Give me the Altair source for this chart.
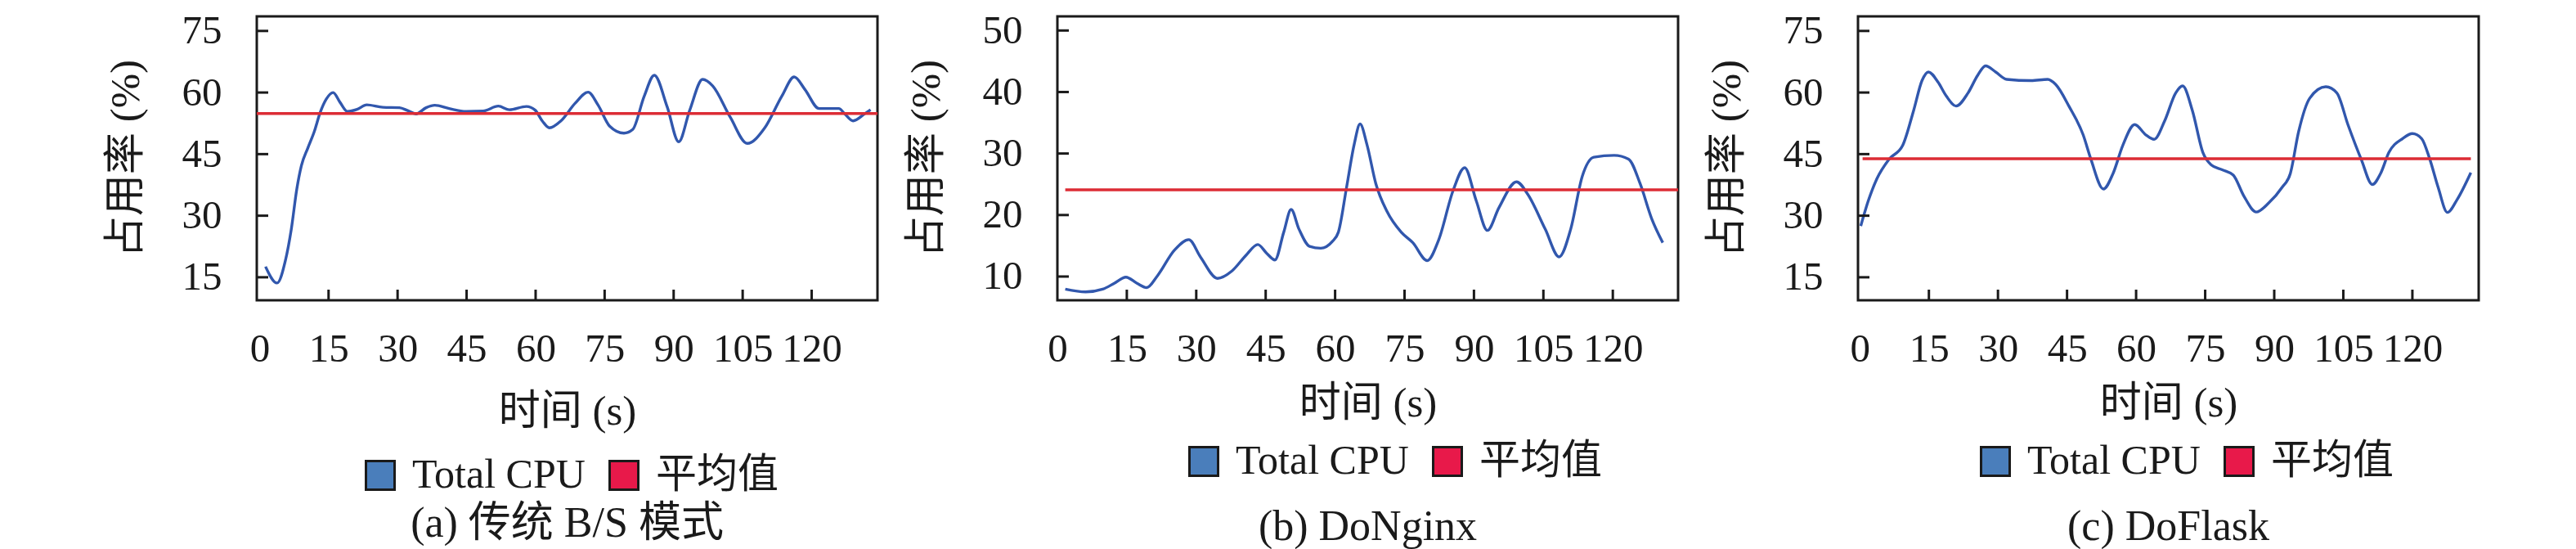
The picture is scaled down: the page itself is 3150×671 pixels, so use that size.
import altair as alt
import pandas as pd

SERIES = ["Total CPU", "平均值"]

# ---- panel (a) 传统 B/S 模式 ----
a_time = [1.3, 3.8, 5.6, 6.9, 8.1, 9.1, 10.5, 11.9, 13.2, 14.5, 16.0, 17.5, 19.1, 21.2, 23.3, 26.8,
          30.4, 32.2, 34.0, 36.2, 38.1, 41.2, 44.9, 48.6, 51.9, 54.3, 58.0, 59.9, 61.5, 63.0, 65.5,
          68.6, 71.4, 73.6, 76.1, 79.2, 81.1, 83.6, 85.8, 88.6, 91.1, 93.5, 96.3, 98.5, 102.3, 106.0,
          109.8, 113.5, 116.2, 118.5, 121.6, 125.9, 127.2, 129.0, 131.5, 132.8]
a_cpu = [17.6, 13.6, 19.0, 26.7, 36.5, 42.2, 46.5, 50.5, 55.2, 58.4, 60.0, 57.6, 55.4, 55.9, 57.0, 56.4,
         56.3, 55.6, 54.8, 56.3, 56.9, 56.1, 55.4, 55.5, 56.7, 55.8, 56.6, 55.7, 53.0, 51.4, 53.1,
         57.4, 60.1, 56.9, 51.8, 50.1, 51.0, 59.1, 64.2, 56.5, 48.0, 55.7, 63.2, 61.6, 54.0, 47.6,
         51.4, 59.1, 63.8, 60.8, 56.1, 56.1, 54.8, 53.1, 54.8, 55.8]
a_mean = 54.9
a_mean_time = [-1.0, 135.0]

# ---- panel (b) DoNginx ----
b_time = [1.7, 6.1, 9.8, 12.3, 14.8, 17.2, 19.3, 21.6, 25.3, 28.4, 30.9, 34.6, 37.7, 40.8, 43.3, 45.2,
          47.0, 48.9, 50.5, 52.2, 54.5, 56.9, 59.4, 60.7, 62.5, 64.1, 65.4, 66.9, 68.8, 71.2, 74.3,
          76.8, 79.9, 82.4, 85.5, 88.0, 90.5, 92.9, 95.4, 99.2, 101.6, 105.4, 108.4, 110.9, 113.4,
          115.9, 120.3, 123.4, 125.9, 128.4, 130.8]
b_cpu = [7.95, 7.5, 7.95, 8.9, 9.9, 8.9, 8.2, 10.1, 14.3, 16.0, 13.2, 9.7, 10.9, 13.5, 15.2, 13.8,
         12.7, 17.2, 20.9, 17.7, 14.9, 14.6, 15.7, 17.2, 24.6, 31.4, 34.8, 31.4, 25.1, 20.6, 17.2,
         15.5, 12.6, 16.0, 24.0, 27.7, 22.3, 17.5, 21.2, 25.4, 23.4, 17.7, 13.2, 17.7, 26.3,
         29.4, 29.7, 29.1, 25.1, 19.4, 15.5]
b_mean = 24.1
b_mean_time = [1.7, 135.0]

# ---- panel (c) DoFlask ----
c_time = [0.2, 1.8, 3.7, 6.3, 9.3, 11.7, 13.5, 14.9, 17.0, 18.8, 20.9, 23.5, 25.6, 27.3, 29.5, 31.9,
          37.2, 40.8, 42.5, 45.5, 48.5, 50.2, 52.9, 55.0, 57.1, 59.7, 62.1, 63.9, 66.2, 68.6, 70.1,
          72.2, 74.5, 76.3, 78.7, 81.1, 83.4, 86.1, 88.8, 91.7, 93.5, 95.3, 97.7, 101.2, 103.6,
          106.0, 108.9, 111.3, 113.1, 114.9, 117.9, 120.0, 122.0, 123.8, 125.6, 127.6, 129.7, 132.7]
c_cpu = [27.5, 33.5, 39.0, 43.7, 47.1, 55.7, 62.9, 65.0, 62.5, 59.1, 56.7, 59.9, 64.2, 66.5, 65.0, 63.2,
         62.9, 63.2, 62.0, 56.5, 49.7, 43.7, 36.5, 40.3, 47.1, 52.2, 49.7, 48.6, 53.1, 59.9, 61.6,
         55.7, 45.4, 42.4, 41.2, 39.9, 34.8, 30.9, 33.1, 36.9, 40.3, 50.5, 58.6, 61.4, 59.9,
         52.2, 43.7, 37.6, 40.3, 45.4, 48.8, 50.0, 48.8, 43.7, 36.9, 30.8, 33.9, 40.5]
c_mean = 43.9
c_mean_time = [0.6, 132.7]

x_tick_values = [15, 30, 45, 60, 75, 90, 105, 120]
x_label_values = [0, 15, 30, 45, 60, 75, 90, 105, 120]
a_y_ticks = [15, 30, 45, 60, 75]
b_y_ticks = [10, 20, 30, 40, 50]
c_y_ticks = [15, 30, 45, 60, 75]
captions = ["(a) 传统 B/S 模式", "(b) DoNginx", "(c) DoFlask"]
x_title = "时间 (s)"
y_title = "占用率 (%)"

FONT = "Liberation Serif, Noto Sans CJK SC"
INK = "#1a1a1a"
W, H = 759, 347
LINE_BLUE = "#3157ad"
MEAN_RED = "#dc2c35"
SW_BLUE = "#4a7ebb"
SW_RED = "#e8194a"


def panel(t, v, mean, mean_t, xdom, ydom, yticks, caption, lx, ly, xtitle_pad, cap_off):
    cpu = pd.DataFrame({"t": t, "v": v, "s": SERIES[0]})
    avg = pd.DataFrame({"t": mean_t, "v": [mean, mean], "s": SERIES[1]})
    both = pd.concat([cpu, avg], ignore_index=True)
    xs = alt.Scale(domain=xdom, nice=False, zero=False)
    ys = alt.Scale(domain=ydom, nice=False, zero=False)
    xax = alt.Axis(values=x_label_values, title=x_title, domain=False, ticks=False, grid=False,
                   labelPadding=35, labelFontSize=49, labelFont=FONT, labelColor=INK,
                   labelFlush=False, labelOverlap=False,
                   titleFont=FONT, titleFontSize=51, titleFontWeight="normal", titleColor=INK,
                   titlePadding=xtitle_pad)
    yax = alt.Axis(values=yticks, title=y_title, domain=False, ticks=False, grid=False,
                   labelPadding=43, labelFontSize=49, labelFont=FONT, labelColor=INK,
                   labelFlush=False, labelOverlap=False,
                   titleFont=FONT, titleFontSize=51, titleFontWeight="normal", titleColor=INK,
                   titlePadding=42)
    cpu_line = alt.Chart(cpu).mark_line(color=LINE_BLUE, strokeWidth=3.4, interpolate="monotone",
                                        clip=True).encode(
        x=alt.X("t:Q", scale=xs, axis=xax), y=alt.Y("v:Q", scale=ys, axis=yax))
    mean_line = alt.Chart(avg).mark_line(color=MEAN_RED, strokeWidth=3.5, clip=True).encode(
        x="t:Q", y="v:Q")
    legend_layer = alt.Chart(both).mark_square(opacity=0, stroke=INK, clip=True).encode(
        x="t:Q", y="v:Q",
        fill=alt.Fill("s:N", scale=alt.Scale(domain=SERIES, range=[SW_BLUE, SW_RED]),
                      sort=SERIES,
                      legend=alt.Legend(title=None, orient="none", legendX=lx, legendY=ly,
                                        direction="horizontal", symbolType="square",
                                        symbolSize=1225, symbolStrokeColor=INK,
                                        symbolStrokeWidth=3, symbolOpacity=1,
                                        labelFont=FONT, labelFontSize=50, labelColor=INK,
                                        labelOffset=14, columnPadding=22, padding=0,
                                        labelLimit=0)))
    xt = alt.Chart(pd.DataFrame({"t": x_tick_values})).mark_rule(color=INK, strokeWidth=3).encode(
        x="t:Q", y=alt.value(H), y2=alt.value(H - 13))
    yt = alt.Chart(pd.DataFrame({"v": yticks})).mark_rule(color=INK, strokeWidth=3).encode(
        y="v:Q", x=alt.value(0), x2=alt.value(14))
    return alt.layer(cpu_line, mean_line, legend_layer, xt, yt).properties(
        width=W, height=H,
        title=alt.TitleParams(text=caption, orient="bottom", anchor="middle", font=FONT,
                              fontSize=52, fontWeight="normal", color=INK, offset=cap_off))


pa = panel(a_time, a_cpu, a_mean, a_mean_time, [-0.6, 134.3], [9.4, 78.55], a_y_ticks,
           captions[0], 126, 536, 27, 9)
pb = panel(b_time, b_cpu, b_mean, b_mean_time, [0, 134.1], [6.14, 52.3], b_y_ticks,
           captions[1], 154, 519, 17, 30)
pc = panel(c_time, c_cpu, c_mean, c_mean_time, [-0.4, 134.4], [9.4, 78.55], c_y_ticks,
           captions[2], 143, 519, 17, 30)

chart = alt.hconcat(pa, pb, pc, spacing=30).resolve_scale(fill="independent").configure_view(
    stroke=INK, strokeWidth=3).properties(
    padding={"left": 118, "top": 3, "right": 0, "bottom": 0}, background="white")

chart.save("out.html", embed_options={"renderer": "svg", "actions": False})
